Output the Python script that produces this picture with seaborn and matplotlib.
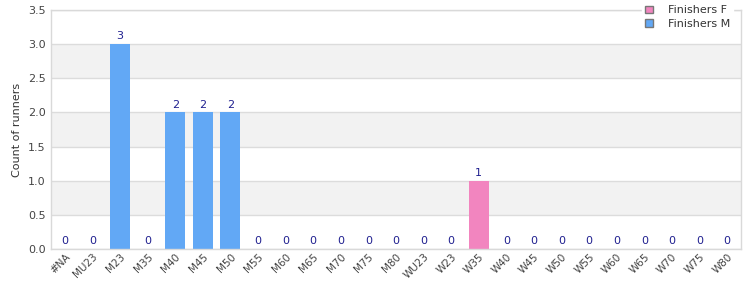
import matplotlib
matplotlib.use("Agg")
import matplotlib.pyplot as plt
import seaborn as sns
import pandas as pd
from matplotlib.patches import Patch

categories = ["#NA", "MU23", "M23", "M35", "M40", "M45", "M50", "M55", "M60", "M65",
              "M70", "M75", "M80", "WU23", "W23", "W35", "W40", "W45", "W50", "W55",
              "W60", "W65", "W70", "W75", "W80"]
counts = [0, 0, 3, 0, 2, 2, 2, 0, 0, 0, 0, 0, 0, 0, 0, 1, 0, 0, 0, 0, 0, 0, 0, 0, 0]
series = ["Finishers M"] * 13 + ["Finishers F"] * 12
series_order = ["Finishers F", "Finishers M"]
colors = {"Finishers F": "#f285bf", "Finishers M": "#62a8f5"}

df = pd.DataFrame({"category": categories, "count": counts, "series": series})

sns.set_theme(style="white")
plt.rcParams['font.family'] = ['DejaVu Sans']

fig = plt.figure(figsize=(7.5, 3.0), dpi=100)
ax = fig.add_axes([0.068, 0.17, 0.92, 0.797])

# alternating bands
for lo in [0.5, 1.5, 2.5]:
    ax.axhspan(lo, lo + 0.5, color="#f2f2f2", zorder=0, lw=0)

sns.barplot(data=df, x="category", y="count", hue="series", hue_order=series_order,
            order=categories, palette=colors, dodge=False, width=0.72,
            saturation=1, ax=ax, legend=False, zorder=2, linewidth=0, edgecolor="none")

for c in ax.containers:
    ax.bar_label(c, fmt="%d", padding=2, color="#1f1f8f", fontsize=8)

ax.set_ylim(0, 3.5)
ax.set_xlim(-0.5, len(categories) - 0.5)
ax.set_yticks([0, 0.5, 1.0, 1.5, 2.0, 2.5, 3.0, 3.5])
ax.set_yticklabels(["0.0", "0.5", "1.0", "1.5", "2.0", "2.5", "3.0", "3.5"])
ax.yaxis.grid(True, color="#dcdcdc", lw=1, zorder=1)
ax.set_axisbelow(True)
ax.set_xlabel("")
ax.set_ylabel("Count of runners", fontsize=8, color="#333333")
ax.tick_params(axis="y", labelsize=8, colors="#444444", length=0, pad=4)
ax.tick_params(axis="x", labelsize=7.5, colors="#444444", length=0, pad=2)
plt.setp(ax.get_xticklabels(), rotation=45, ha="right", rotation_mode="anchor")
for s in ax.spines.values():
    s.set_color("#d9d9d9")
    s.set_linewidth(1)

handles = [Patch(facecolor=colors[s], edgecolor="#777777", label=s) for s in series_order]
leg = fig.legend(handles=handles, loc="upper right", bbox_to_anchor=(0.985, 1.012),
                 frameon=True, fontsize=8, handlelength=0.7, handleheight=0.7,
                 handletextpad=1.3, labelspacing=0.35, borderpad=0.3)
leg.get_frame().set_facecolor("white")
leg.get_frame().set_edgecolor("white")
leg.get_frame().set_alpha(1)
for t in leg.get_texts():
    t.set_color("#333333")

fig.savefig("out.png", dpi=100)
